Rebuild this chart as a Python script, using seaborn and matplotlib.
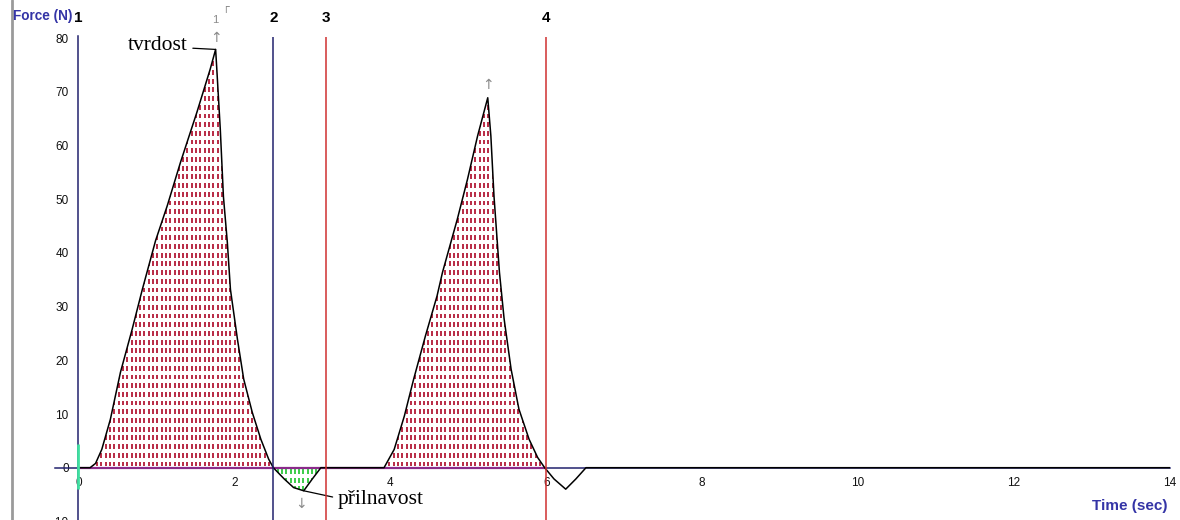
import matplotlib
matplotlib.use("Agg")
import numpy as np
import pandas as pd
import matplotlib.pyplot as plt
import seaborn as sns
from matplotlib.path import Path
from matplotlib.lines import Line2D

# ---------------------------
# Data: texture analyser trace (two compression cycles)
# ---------------------------
time_sec = [0.0, 0.15, 0.22, 0.30, 0.41, 0.54, 0.69, 0.82, 0.99, 1.14, 1.31, 1.52, 1.69,
            1.76, 1.77, 1.82, 1.86, 1.91, 1.95, 2.04, 2.12, 2.23, 2.34, 2.44, 2.50,
            2.64, 2.76, 2.89, 3.00, 3.11, 3.92, 4.05, 4.18, 4.30, 4.45, 4.60, 4.67,
            4.86, 4.99, 5.12, 5.25, 5.29, 5.33, 5.40, 5.46, 5.55, 5.65, 5.78, 5.89,
            5.98, 6.10, 6.25, 6.38, 6.51, 14.0]
force_n = [0.0, 0.0, 0.8, 3.4, 9.0, 17.8, 25.8, 33.2, 42.3, 48.8, 56.9, 66.2, 74.2,
           77.9, 75.5, 63.0, 50.5, 42.0, 33.2, 23.9, 16.5, 10.3, 5.3, 1.6, 0.0,
           -2.1, -3.7, -4.3, -2.1, 0.0, 0.0, 3.4, 9.6, 16.5, 24.5, 32.0, 36.4,
           46.3, 53.7, 61.8, 68.9, 61.8, 50.6, 36.4, 27.7, 18.3, 10.9, 5.3, 1.9,
           0.0, -2.1, -4.0, -2.1, 0.0, 0.0]

# cursor markers
marker_times = [0.0, 2.50, 3.17, 6.0]
marker_labels = ["1", "2", "3", "4"]
marker_colors = ["#22226e", "#22226e", "#d03030", "#d03030"]

x_ticks = [0, 2, 4, 6, 8, 10, 12, 14]
y_ticks = [-10, 0, 10, 20, 30, 40, 50, 60, 70, 80]

XMIN, XMAX = -0.3, 14.0
YMIN, YMAX = -10.3, 80.4
AXIS_COLOR = "#22226e"
LABEL_BLUE = "#3434a6"

t = np.array(time_sec)
f = np.array(force_n)
df = pd.DataFrame({"Time": t, "Force": f})

sns.set_theme(style="white")
plt.rcParams["font.family"] = ["Liberation Sans", "DejaVu Sans"]

fig = plt.figure(figsize=(11.8, 5.2), dpi=100)
ax = fig.add_axes([55 / 1180, -3 / 520, 1115 / 1180, 487 / 520])
ax.set_facecolor("white")
ax.set_xlim(XMIN, XMAX)
ax.set_ylim(YMIN, YMAX)

# ---------------------------
# Dotted hatch under the curve (clipped to the filled areas)
# ---------------------------
pos = ax.fill_between(t, f, 0, where=f >= 0, interpolate=True,
                      facecolor="none", linewidth=0)
neg = ax.fill_between(t, f, 0, where=(f <= 0) & (t < 3.5), interpolate=True,
                      facecolor="none", linewidth=0)

dx = 4.3 / 78.0
dy = 8.7 / 5.37
dash = 4.8 / 5.37
cols = np.arange(0.02, 6.1, dx)

rows_up = np.arange(0.25, 80, dy)
gx, gy = np.meshgrid(cols, rows_up)
up = ax.vlines(gx.ravel(), gy.ravel(), gy.ravel() + dash, colors="#b82a44", lw=1.4)
up.set_clip_path(Path.make_compound_path(*pos.get_paths()), ax.transData)

rows_dn = np.arange(-0.25, -8, -dy)
gx, gy = np.meshgrid(cols, rows_dn)
dn = ax.vlines(gx.ravel(), gy.ravel() - dash, gy.ravel(), colors="#3ccc4a", lw=1.4)
dn.set_clip_path(Path.make_compound_path(*neg.get_paths()), ax.transData)

# baseline tint under the hatched part
ax.hlines(0, 0, marker_times[-1], colors="#8a2a8a", lw=1.6, zorder=3)

# ---------------------------
# Force trace
# ---------------------------
sns.lineplot(data=df, x="Time", y="Force", color="black", lw=1.1,
             estimator=None, sort=False, ax=ax, zorder=4)
ax.set_xlabel("")
ax.set_ylabel("")

# axes through the origin
for side in ["top", "right"]:
    ax.spines[side].set_visible(False)
ax.spines["left"].set_position(("data", 0))
ax.spines["bottom"].set_position(("data", 0))
ax.spines["left"].set_color(AXIS_COLOR)
ax.spines["bottom"].set_color(AXIS_COLOR)
ax.spines["left"].set_linewidth(1.1)
ax.spines["bottom"].set_linewidth(1.1)
ax.set_xticks(x_ticks)
ax.set_yticks(y_ticks)
ax.tick_params(axis="both", direction="out", length=5, width=1, colors="#111111",
               labelsize=8.5, pad=2)
ax.tick_params(axis="y", colors=AXIS_COLOR, labelcolor="#111111")

# green stub on the first cursor
ax.vlines(0, -4, 4.5, colors="#3fe0a0", lw=2, zorder=5)

# ---------------------------
# Cursor lines and their numbers
# ---------------------------
for mt, ml, mc in zip(marker_times, marker_labels, marker_colors):
    if mt > 0:
        ax.vlines(mt, YMIN, 80.2, colors=mc, lw=1.1, zorder=5)
    ax.text(mt, 83.7, ml, ha="center", va="center", fontsize=11,
            fontweight="bold", color="black", clip_on=False)

# ---------------------------
# Annotations
# ---------------------------
i_peak = int(np.argmax(f))
i_dip = int(np.argmin(f[t < 3.5]))
i_peak2 = int(np.argmax(np.where(t > 3.5, f, -99)))

ax.annotate("tvrdost", xy=(t[i_peak], f[i_peak]), xytext=(0.64, 78.7),
            fontsize=15.5, family=["Liberation Serif", "DejaVu Serif"],
            ha="left", va="center", color="black",
            arrowprops=dict(arrowstyle="-", color="black", lw=0.9,
                            relpos=(1.0, 0.35), shrinkA=1, shrinkB=0))
ax.annotate("přilnavost", xy=(t[i_dip], f[i_dip]), xytext=(3.32, -6.0),
            fontsize=15.5, family=["Liberation Serif", "DejaVu Serif"],
            ha="left", va="center", color="black", annotation_clip=False,
            arrowprops=dict(arrowstyle="-", color="black", lw=0.9,
                            relpos=(0.0, 0.6), shrinkA=1, shrinkB=0))

grey = "#8a8a8a"
arrow_font = ["DejaVu Sans"]
ax.text(t[i_peak], 80.0, "↑", ha="center", va="center", fontsize=10, color=grey,
        family=arrow_font, clip_on=False)
ax.text(t[i_peak], 83.4, "1", ha="center", va="center", fontsize=8, color=grey,
        clip_on=False)
ax.text(t[i_peak] + 0.13, 85.6, "┌", ha="center", va="center", fontsize=8,
        color=grey, family=arrow_font, clip_on=False)
ax.text(t[i_peak2], 71.2, "↑", ha="center", va="center", fontsize=10, color=grey,
        family=arrow_font)
ax.text(t[i_dip] - 0.03, -6.8, "↓", ha="center", va="center", fontsize=10,
        color=grey, family=arrow_font)

# axis titles
fig.text(13 / 1180, 1 - 16 / 520, "Force (N)", ha="left", va="center",
         fontsize=9.8, fontweight="bold", color=LABEL_BLUE)
fig.text(1168 / 1180, 1 - 506 / 520, "Time (sec)", ha="right", va="center",
         fontsize=11, fontweight="bold", color=LABEL_BLUE)

# grey frame edge at the left
fig.add_artist(Line2D([12 / 1180, 12 / 1180], [0, 1], transform=fig.transFigure,
                      color="#9a9a9a", lw=2))

fig.savefig("out.png", dpi=100, facecolor="white")
